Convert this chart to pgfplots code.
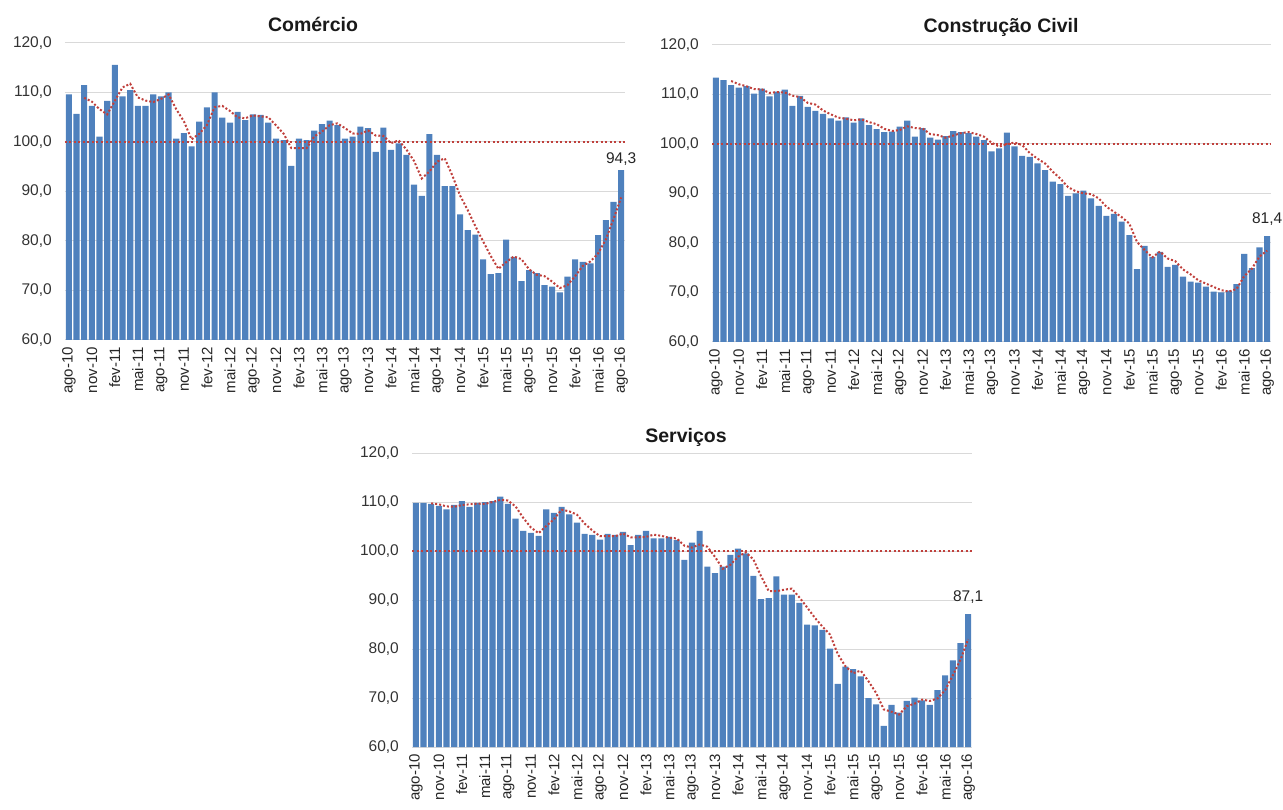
\documentclass[border=0pt]{standalone}
\usepackage{pgfplots}
\pgfplotsset{compat=1.18}
\usepackage{pgfplotstable}
\usepackage{fontspec}
\setmainfont{Liberation Sans}
\definecolor{barblue}{RGB}{79,129,189}
\definecolor{mared}{RGB}{192,64,60}
\definecolor{gridgray}{RGB}{217,217,217}

\pgfplotstableread{
x y m
0 109.6 nan
1 105.7 nan
2 111.5 108.93
3 107.3 108.17
4 101.1 106.63
5 108.3 105.57
6 115.6 108.33
7 109.2 111.03
8 110.5 111.77
9 107.3 109.00
10 107.3 108.37
11 109.6 108.07
12 109.2 108.70
13 110.0 109.60
14 100.7 106.63
15 101.8 104.17
16 99.1 100.53
17 104.1 101.67
18 107.0 103.40
19 110.0 107.03
20 104.9 107.30
21 103.9 106.27
22 106.1 104.97
23 104.4 104.80
24 105.6 105.37
25 105.5 105.17
26 103.9 105.00
27 100.7 103.37
28 100.4 101.67
29 95.2 98.77
30 100.7 98.77
31 100.4 98.77
32 102.3 101.13
33 103.6 102.10
34 104.3 103.40
35 103.4 103.77
36 100.7 102.80
37 101.1 101.73
38 103.1 101.63
39 102.8 102.33
40 98.0 101.30
41 102.9 101.23
42 98.4 99.77
43 99.7 100.33
44 97.4 98.50
45 91.4 96.17
46 89.1 92.63
47 101.6 94.03
48 97.4 96.03
49 91.1 96.70
50 91.1 93.20
51 85.4 89.20
52 82.2 86.23
53 81.3 82.97
54 76.3 79.93
55 73.3 76.97
56 73.5 74.37
57 80.3 75.70
58 76.8 76.87
59 71.9 76.33
60 74.1 74.27
61 73.5 73.17
62 71.1 72.90
63 70.8 71.80
64 69.6 70.50
65 72.8 71.07
66 76.3 72.90
67 75.8 74.97
68 75.5 75.87
69 81.2 77.50
70 84.2 80.30
71 87.9 84.43
72 94.3 88.80
}\comercio

\pgfplotstableread{
x y m
0 113.4 nan
1 112.9 nan
2 111.9 112.73
3 111.4 112.07
4 111.7 111.67
5 110.2 111.10
6 111.2 111.03
7 109.6 110.33
8 110.6 110.47
9 111.0 110.40
10 107.7 109.77
11 109.7 109.47
12 107.5 108.30
13 106.7 107.97
14 106.1 106.77
15 105.2 106.00
16 104.7 105.33
17 105.4 105.10
18 104.3 104.80
19 105.2 104.97
20 103.8 104.43
21 103.0 104.00
22 102.4 103.07
23 102.5 102.63
24 103.5 102.80
25 104.7 103.57
26 101.5 103.23
27 103.2 103.13
28 101.3 102.00
29 100.9 101.80
30 101.6 101.27
31 102.6 101.70
32 102.4 102.20
33 102.2 102.40
34 101.5 102.03
35 100.8 101.50
36 98.5 100.27
37 99.1 99.47
38 102.3 99.97
39 99.5 100.30
40 97.6 99.80
41 97.4 98.17
42 96.1 97.03
43 94.7 96.07
44 92.4 94.40
45 91.9 93.00
46 89.5 91.27
47 90.0 90.47
48 90.6 90.03
49 89.0 89.87
50 87.5 89.03
51 85.5 87.33
52 85.9 86.30
53 84.3 85.23
54 81.6 83.93
55 74.7 80.20
56 79.4 78.57
57 77.2 77.10
58 78.2 78.27
59 75.2 76.87
60 75.6 76.33
61 73.2 74.67
62 72.2 73.67
63 72.0 72.47
64 71.2 71.80
65 70.2 71.13
66 70.0 70.47
67 70.4 70.20
68 71.7 70.70
69 77.8 73.30
70 74.9 74.80
71 79.1 77.27
72 81.4 78.47
}\construcao

\pgfplotstableread{
x y m
0 109.8 nan
1 109.8 nan
2 109.6 109.73
3 109.2 109.53
4 108.5 109.10
5 109.4 109.03
6 110.2 109.37
7 109.0 109.53
8 109.8 109.67
9 110.0 109.60
10 110.2 110.00
11 111.1 110.43
12 109.6 110.30
13 106.6 109.10
14 104.1 106.77
15 103.7 104.80
16 103.1 103.63
17 108.5 105.10
18 107.8 106.47
19 109.0 108.43
20 107.5 108.10
21 105.8 107.43
22 103.5 105.60
23 103.3 104.20
24 102.3 103.03
25 103.5 103.03
26 103.3 103.03
27 103.9 103.57
28 101.2 102.80
29 103.3 102.80
30 104.1 102.87
31 102.6 103.33
32 102.6 103.10
33 102.9 102.70
34 102.2 102.57
35 98.2 101.10
36 101.7 100.70
37 104.1 101.33
38 96.8 100.87
39 95.5 98.80
40 96.8 96.37
41 99.2 97.17
42 100.5 98.83
43 99.5 99.73
44 94.9 98.30
45 90.2 94.87
46 90.4 91.83
47 94.8 91.80
48 91.1 92.10
49 91.1 92.33
50 89.4 90.53
51 85.0 88.50
52 84.8 86.40
53 83.9 84.57
54 80.1 82.93
55 72.9 78.97
56 76.4 76.47
57 75.9 75.07
58 74.4 75.57
59 70.0 73.43
60 68.7 71.03
61 64.3 67.67
62 68.6 67.20
63 67.0 66.63
64 69.4 68.33
65 70.1 68.83
66 69.5 69.67
67 68.6 69.40
68 71.6 69.90
69 74.6 71.60
70 77.7 74.63
71 81.2 77.83
72 87.1 82.00
}\servicos

\pgfplotsset{
  panel/.style={
    scale only axis, width=560pt, height=297pt, anchor=south west,
    xmin=-0.5, xmax=72.5, ymin=60, ymax=120,
    ytick={60,70,...,120},
    yticklabels={{60,0},{70,0},{80,0},{90,0},{100,0},{110,0},{120,0}},
    xtick={0,3,...,72},
    xticklabels={ago-10,nov-10,fev-11,mai-11,ago-11,nov-11,fev-12,mai-12,ago-12,nov-12,fev-13,mai-13,ago-13,nov-13,fev-14,mai-14,ago-14,nov-14,fev-15,mai-15,ago-15,nov-15,fev-16,mai-16,ago-16},
    x tick label style={rotate=90, anchor=east, inner sep=0pt, inner xsep=7pt,
      font=\fontsize{15}{15}\selectfont, text=black!85},
    y tick label style={anchor=east, inner sep=0pt, inner xsep=13pt,
      font=\fontsize{15.5}{15.5}\selectfont, text=black!80},
    ymajorgrids, major grid style={draw=gridgray, line width=1pt},
    axis line style={draw=none}, major tick length=0pt,
    clip mode=individual,
  },
  bars/.style={ybar, bar width=0.8, fill=barblue, draw=none},
  ma/.style={mared, line width=2pt, dash pattern=on 2pt off 2pt, no marks},
  cem/.style={mared, line width=2pt, dash pattern=on 2pt off 2.5pt, no marks},
}

\begin{document}
\begin{tikzpicture}[x=1pt,y=1pt]
\useasboundingbox (0pt,0pt) rectangle (1283pt,809pt);

\begin{axis}[panel, at={(65pt,469pt)}]
\addplot[bars] table[x=x,y=y]{\comercio};
\addplot[cem] coordinates {(-0.5,100) (72.5,100)};
\addplot[ma] table[x=x,y=m]{\comercio};
\node[anchor=south, inner sep=0pt, yshift=5pt, font=\fontsize{15.5}{15.5}\selectfont, text=black!85] at (axis cs:72,94.3) {94,3};
\end{axis}

\begin{axis}[panel, width=559pt, at={(712pt,467pt)}]
\addplot[bars] table[x=x,y=y]{\construcao};
\addplot[cem] coordinates {(-0.5,100) (72.5,100)};
\addplot[ma] table[x=x,y=m]{\construcao};
\node[anchor=south, inner sep=0pt, yshift=10pt, font=\fontsize{15.5}{15.5}\selectfont, text=black!85] at (axis cs:72,81.4) {81,4};
\end{axis}

\begin{axis}[panel, height=294pt, at={(412pt,62pt)}]
\addplot[bars] table[x=x,y=y]{\servicos};
\addplot[cem] coordinates {(-0.5,100) (72.5,100)};
\addplot[ma] table[x=x,y=m]{\servicos};
\node[anchor=south, inner sep=0pt, yshift=11pt, font=\fontsize{15.5}{15.5}\selectfont, text=black!85] at (axis cs:72,87.1) {87,1};
\end{axis}

\node[font=\fontsize{19.5}{19.5}\selectfont\bfseries, text=black!90] at (313pt,785pt) {Comércio};
\node[font=\fontsize{19.5}{19.5}\selectfont\bfseries, text=black!90] at (1001pt,782pt) {Construção Civil};
\node[font=\fontsize{19.5}{19.5}\selectfont\bfseries, text=black!90] at (686pt,372pt) {Serviços};
\end{tikzpicture}
\end{document}
